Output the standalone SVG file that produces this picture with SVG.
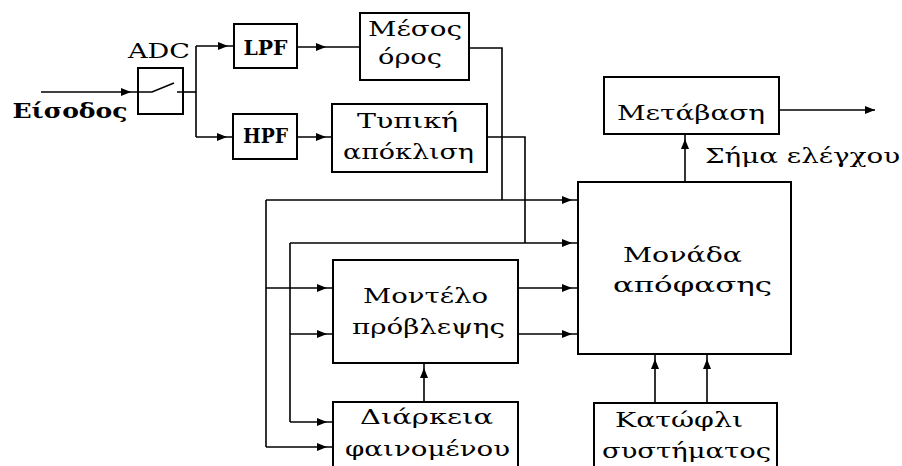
<svg xmlns="http://www.w3.org/2000/svg" width="902" height="466" viewBox="0 0 902 466">
<style>
.box{fill:#fff;stroke:#000;stroke-width:2}
.ln{fill:none;stroke:#000;stroke-width:1.6}
.t{font-family:"DejaVu Serif","Liberation Serif",serif;font-size:21px;fill:#000;text-anchor:middle}
.b{font-weight:bold}
</style>
<defs>
<marker id="a" markerUnits="userSpaceOnUse" markerWidth="10" markerHeight="10" viewBox="0 0 10 10" refX="10" refY="5" orient="auto" overflow="visible">
<path d="M0,1 L10,5 L0,9 z" fill="#000"/>
</marker>
</defs>
<rect width="902" height="466" fill="#fff"/>
<g id="connectors">
<path class="ln" d="M41,92 H131 H138" marker-mid="url(#a)"/>
<path class="ln" d="M183,92 H196"/>
<path class="ln" d="M196,46 V137"/>
<path class="ln" d="M196,46 H228 H234" marker-mid="url(#a)"/>
<path class="ln" d="M196,137 H227 H233" marker-mid="url(#a)"/>
<path class="ln" d="M297,47 H326 H360" marker-mid="url(#a)"/>
<path class="ln" d="M297,137 H326 H332" marker-mid="url(#a)"/>
<path class="ln" d="M469,48 H502 V200"/>
<path class="ln" d="M487,137 H525 V243"/>
<path class="ln" d="M266,447 V200"/>
<path class="ln" d="M290,422 V243"/>
<path class="ln" d="M266,200 H572 H578" marker-mid="url(#a)"/>
<path class="ln" d="M290,243 H572 H578" marker-mid="url(#a)"/>
<path class="ln" d="M266,288 H327 H333" marker-mid="url(#a)"/>
<path class="ln" d="M290,334 H327 H333" marker-mid="url(#a)"/>
<path class="ln" d="M290,422 H327 H333" marker-mid="url(#a)"/>
<path class="ln" d="M266,447 H327 H333" marker-mid="url(#a)"/>
<path class="ln" d="M518,288 H572 H578" marker-mid="url(#a)"/>
<path class="ln" d="M518,334 H572 H578" marker-mid="url(#a)"/>
<path class="ln" d="M424,402 V368 V363" marker-mid="url(#a)"/>
<path class="ln" d="M655,403 V359 V354" marker-mid="url(#a)"/>
<path class="ln" d="M707,403 V359 V354" marker-mid="url(#a)"/>
<path class="ln" d="M685,182 V139 V134" marker-mid="url(#a)"/>
<path class="ln" d="M779,110 H875" marker-end="url(#a)"/>
</g>
<g id="input">
<text class="t b" x="70" y="118" textLength="115" lengthAdjust="spacingAndGlyphs">Είσοδος</text>
</g>
<g id="adc">
<rect class="box" x="138" y="68" width="45" height="46"/>
<path class="ln" d="M138,92 H152 L174,83 M177,92 H183"/>
<text class="t" x="159" y="58" textLength="62" lengthAdjust="spacingAndGlyphs">ADC</text>
</g>
<g id="lpf">
<rect class="box" x="234" y="24" width="63" height="44"/>
<text class="t b" x="265.5" y="55" font-size="17" textLength="44" lengthAdjust="spacingAndGlyphs">LPF</text>
</g>
<g id="hpf">
<rect class="box" x="233" y="114" width="64" height="45"/>
<text class="t b" x="265.5" y="143" font-size="17" textLength="45" lengthAdjust="spacingAndGlyphs">HPF</text>
</g>
<g id="mesos">
<rect class="box" x="360" y="13" width="109" height="67"/>
<text class="t" x="415" y="36" textLength="94" lengthAdjust="spacingAndGlyphs">Μέσος</text>
<text class="t" x="410" y="64" textLength="64" lengthAdjust="spacingAndGlyphs">όρος</text>
</g>
<g id="typiki">
<rect class="box" x="332" y="104" width="155" height="68"/>
<text class="t" x="407.5" y="128" textLength="101" lengthAdjust="spacingAndGlyphs">Τυπική</text>
<text class="t" x="408.5" y="159" textLength="131" lengthAdjust="spacingAndGlyphs">απόκλιση</text>
</g>
<g id="montelo">
<rect class="box" x="333" y="260" width="185" height="103"/>
<text class="t" x="425.5" y="303" textLength="125" lengthAdjust="spacingAndGlyphs">Μοντέλο</text>
<text class="t" x="428.5" y="334" textLength="153" lengthAdjust="spacingAndGlyphs">πρόβλεψης</text>
</g>
<g id="diarkeia">
<rect class="box" x="333" y="402" width="185" height="70"/>
<text class="t" x="426.5" y="424" textLength="133" lengthAdjust="spacingAndGlyphs">Διάρκεια</text>
<text class="t" x="427.5" y="456" textLength="165" lengthAdjust="spacingAndGlyphs">φαινομένου</text>
</g>
<g id="monada">
<rect class="box" x="578" y="182" width="213" height="172"/>
<text class="t" x="682.5" y="262" textLength="119" lengthAdjust="spacingAndGlyphs">Μονάδα</text>
<text class="t" x="692.5" y="292" textLength="159" lengthAdjust="spacingAndGlyphs">απόφασης</text>
</g>
<g id="metavasi">
<rect class="box" x="604" y="77" width="175" height="57"/>
<text class="t" x="691" y="120" textLength="148" lengthAdjust="spacingAndGlyphs">Μετάβαση</text>
</g>
<g id="control-label">
<text class="t" x="802.5" y="163" textLength="195" lengthAdjust="spacingAndGlyphs">Σήμα ελέγχου</text>
</g>
<g id="katofli">
<rect class="box" x="594" y="403" width="183" height="70"/>
<text class="t" x="679" y="427" textLength="128" lengthAdjust="spacingAndGlyphs">Κατώφλι</text>
<text class="t" x="686.5" y="458" textLength="169" lengthAdjust="spacingAndGlyphs">συστήματος</text>
</g>
</svg>
